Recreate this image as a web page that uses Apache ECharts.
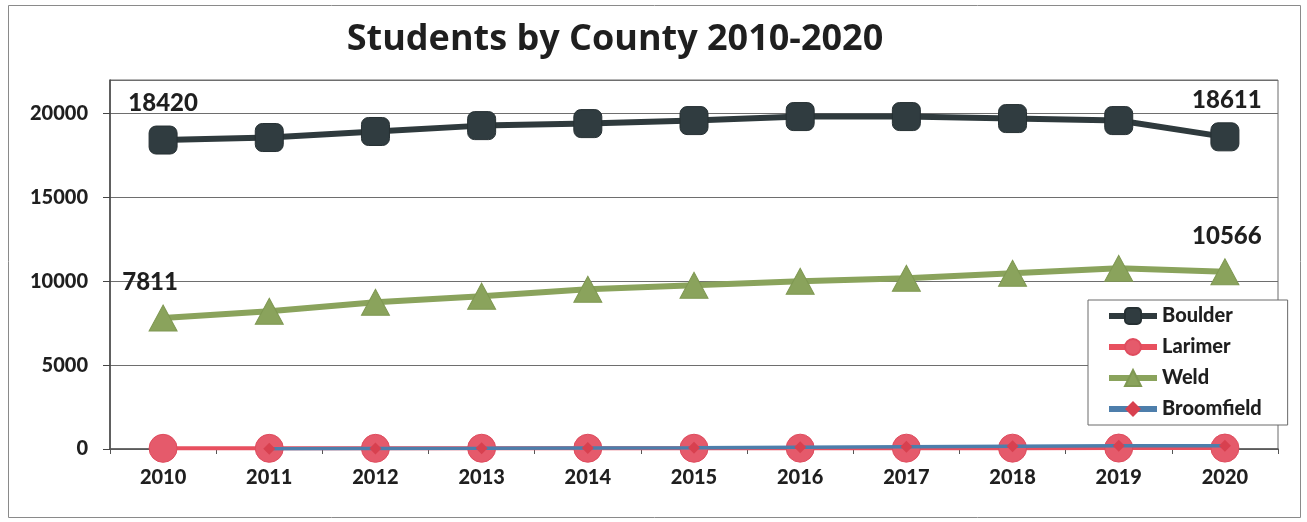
<!DOCTYPE html>
<html>
<head>
<meta charset="utf-8">
<script src="https://cdn.jsdelivr.net/npm/echarts@6/dist/echarts.min.js"></script>
<style>
  html, body { margin: 0; padding: 0; background: #fff; }
  #chart { width: 1307px; height: 522px; }
</style>
</head>
<body>
<div id="chart"></div>
<script>
// Enrollment by county, 2010-2020
const years = ['2010', '2011', '2012', '2013', '2014', '2015', '2016', '2017', '2018', '2019', '2020'];
const boulder = [18420, 18570, 18930, 19280, 19400, 19580, 19820, 19820, 19700, 19580, 18611];
const larimer = [40, 40, 40, 45, 45, 45, 50, 50, 50, 55, 55];
const weld = [7811, 8210, 8750, 9110, 9520, 9760, 10000, 10180, 10480, 10770, 10566];
const broomfield = [null, 20, 30, 40, 60, 80, 110, 140, 170, 190, 200];
const yTicks = [0, 5000, 10000, 15000, 20000];

const FONT = 'Lato';
const INK = '#1f1f1f';

// Only the first and last points of a series carry a value label
function endLabels(values, firstOffset) {
  return values.map((v, i) => {
    if (i === 0 || i === values.length - 1) {
      return {
        value: v,
        label: {
          show: true,
          position: 'top',
          distance: 10,
          offset: i === 0 ? firstOffset : [2, 0],
          fontFamily: FONT,
          fontWeight: 900,
          fontSize: 24,
          color: INK
        }
      };
    }
    return v;
  });
}

const chart = echarts.init(document.getElementById('chart'), null, { renderer: 'canvas' });

chart.setOption({
  backgroundColor: '#ffffff',
  animation: false,
  textStyle: { fontFamily: FONT },
  graphic: [
    {
      type: 'rect',
      shape: { x: 8.5, y: 5.5, width: 1292, height: 512 },
      style: { fill: 'none', stroke: '#8a8a8a', lineWidth: 1 },
      silent: true,
      z: -10
    },
    {
      type: 'text',
      x: 615,
      y: 40,
      style: {
        text: 'Students by County 2010-2020',
        fontFamily: 'Open Sans',
        fontWeight: 'bold',
        fontSize: 36,
        fill: INK,
        textAlign: 'center',
        textVerticalAlign: 'middle'
      }
    }
  ],
  grid: {
    left: 110,
    right: 29,
    top: 80,
    bottom: 73,
    show: true,
    borderColor: '#6a6a6a',
    borderWidth: 1,
    containLabel: false
  },
  legend: {
    orient: 'vertical',
    left: 1088,
    top: 300,
    padding: [6, 26, 6, 18],
    itemWidth: 48,
    itemHeight: 20,
    itemGap: 11,
    borderColor: '#6a6a6a',
    borderWidth: 1,
    backgroundColor: '#ffffff',
    lineStyle: { width: 6 },
    textStyle: { fontFamily: FONT, fontWeight: 900, fontSize: 20, color: INK },
    data: ['Boulder', 'Larimer', 'Weld', 'Broomfield']
  },
  xAxis: {
    type: 'category',
    data: years,
    boundaryGap: true,
    axisLine: { lineStyle: { color: '#555', width: 1.5 } },
    axisTick: { show: true, length: 5, lineStyle: { color: '#555' } },
    axisLabel: {
      margin: 19,
      fontFamily: FONT,
      fontWeight: 900,
      fontSize: 20,
      color: INK
    },
    splitLine: { show: false }
  },
  yAxis: {
    type: 'value',
    min: 0,
    max: 22000,
    interval: 5000,
    axisLine: { show: true, lineStyle: { color: '#444', width: 1.5 } },
    axisTick: { show: true, length: 7, lineStyle: { color: '#444' } },
    axisLabel: {
      margin: 22,
      fontFamily: FONT,
      fontWeight: 900,
      fontSize: 20,
      color: INK,
      showMaxLabel: false,
      formatter: v => (yTicks.indexOf(v) >= 0 ? String(v) : '')
    },
    splitLine: { show: true, lineStyle: { color: '#6e6e6e', width: 1 } }
  },
  series: [
    {
      name: 'Boulder',
      type: 'line',
      data: endLabels(boulder, [0, 0]),
      symbol: 'roundRect',
      symbolSize: 28,
      showAllSymbol: true,
      lineStyle: { color: '#2f3a3d', width: 6 },
      itemStyle: { color: '#303c40', borderColor: '#263033', borderWidth: 1 },
      z: 3
    },
    {
      name: 'Larimer',
      type: 'line',
      data: larimer,
      symbol: 'circle',
      symbolSize: 28,
      showAllSymbol: true,
      lineStyle: { color: '#e8505f', width: 4 },
      itemStyle: { color: '#e55a6b', borderColor: '#df4c5e', borderWidth: 1 },
      z: 2
    },
    {
      name: 'Weld',
      type: 'line',
      data: endLabels(weld, [-13, 0]),
      symbol: 'triangle',
      symbolSize: [28, 26],
      showAllSymbol: true,
      lineStyle: { color: '#8aa35c', width: 6 },
      itemStyle: { color: '#8aa35c', borderColor: '#7f9852', borderWidth: 1 },
      z: 3
    },
    {
      name: 'Broomfield',
      type: 'line',
      data: broomfield,
      symbol: 'diamond',
      symbolSize: 12,
      showAllSymbol: true,
      connectNulls: false,
      lineStyle: { color: '#4d7eab', width: 3.5 },
      itemStyle: { color: '#d8404f' },
      z: 4
    }
  ]
});
</script>
</body>
</html>
